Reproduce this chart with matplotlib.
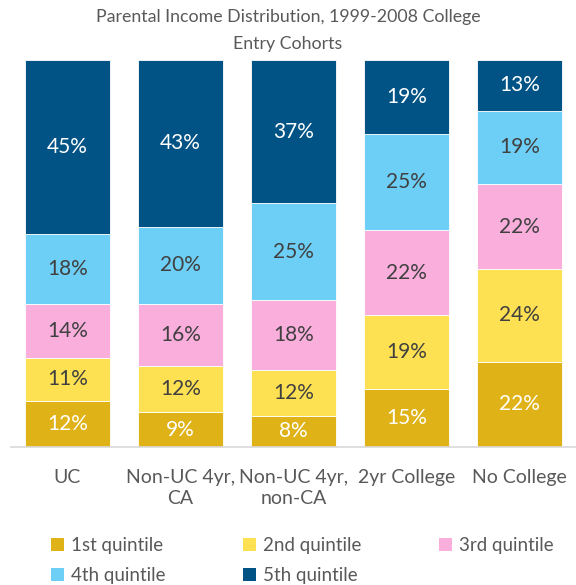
import matplotlib
matplotlib.use("Agg")
from matplotlib import pyplot as plt
from matplotlib.patches import Patch
import numpy as np

plt.rcParams['font.family'] = ['Lato', 'DejaVu Sans']

categories = ["UC", "Non-UC 4yr,\nCA", "Non-UC 4yr,\nnon-CA", "2yr College", "No College"]
quintiles = ["1st quintile", "2nd quintile", "3rd quintile", "4th quintile", "5th quintile"]
q1 = [12, 9, 8, 15, 22]
q2 = [11, 12, 12, 19, 24]
q3 = [14, 16, 18, 22, 22]
q4 = [18, 20, 25, 25, 19]
q5 = [45, 43, 37, 19, 13]

colors = ["#DFB317", "#FEE153", "#F9AEDC", "#6DCFF6", "#005384"]
txt_colors = ["white", "#404040", "#404040", "#404040", "white"]
grey = "#595959"

fig = plt.figure(figsize=(5.76, 5.85), dpi=100)
ax = fig.add_axes([0.019, 0.236, 0.981, 0.661])

x = np.arange(len(categories))
bottom = np.zeros(len(categories))
for vals, col, tc in zip([q1, q2, q3, q4, q5], colors, txt_colors):
    vals = np.array(vals, dtype=float)
    ax.bar(x, vals, 0.75, bottom=bottom, color=col, edgecolor="white", linewidth=0.6)
    for xi, b, v in zip(x, bottom, vals):
        ax.text(xi, b + v / 2, "%d%%" % v, ha="center", va="center", fontsize=15, color=tc)
    bottom += vals

ax.set_xlim(-0.5, 4.5)
ax.set_ylim(0, 100)
ax.set_yticks([])
ax.set_xticks(x)
ax.set_xticklabels(categories, fontsize=14, color=grey, linespacing=1.3)
ax.tick_params(axis="x", length=0, pad=16)
for s in ["top", "right", "left"]:
    ax.spines[s].set_visible(False)
ax.spines["bottom"].set_color("#D9D9D9")
ax.spines["bottom"].set_linewidth(1.2)

fig.text(0.5, 0.985, "Parental Income Distribution, 1999-2008 College\nEntry Cohorts",
         ha="center", va="top", fontsize=12.8, color=grey, linespacing=1.85)

# reorder so legend fills row by row
order = [0, 3, 1, 4, 2]
handles = [Patch(facecolor=colors[i], edgecolor="none") for i in order]
labels = [quintiles[i] for i in order]
fig.legend(handles, labels, ncol=3, loc="upper left", bbox_to_anchor=(0.075, 0.095),
           frameon=False, fontsize=13.5, labelcolor=grey, handlelength=0.7, handleheight=0.7,
           handletextpad=0.4, columnspacing=4.1, borderaxespad=0, labelspacing=0.7)

fig.savefig("out.png", dpi=100)
